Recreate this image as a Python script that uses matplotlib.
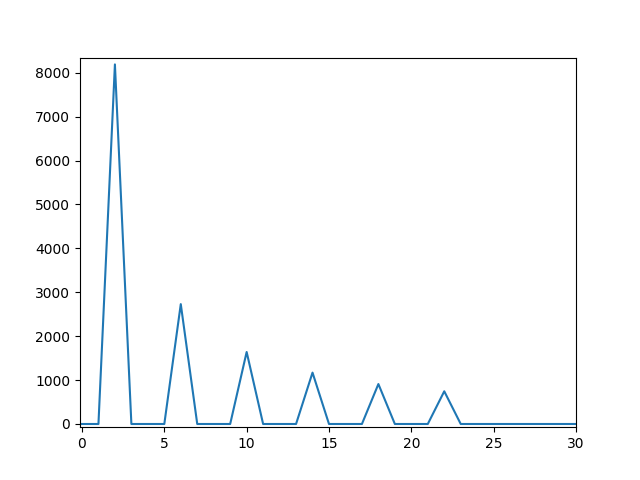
import matplotlib
matplotlib.use("Agg")
import matplotlib.pyplot as plt

# --------------------------------
# DATA
# --------------------------------

freq = list(range(0, 31))
amplitude = [0, 0, 8190, 0, 0, 0, 2730, 0, 0, 0,
             1640, 0, 0, 0, 1170, 0, 0, 0, 910, 0,
             0, 0, 745, 0, 0, 0, 0, 0, 0, 0, 0]

# --------------------------------
# PLOT
# --------------------------------

plt.figure(figsize=(6.4, 4.8), dpi=100)

plt.plot(freq, amplitude)

plt.xlim(-0.12, 30)
plt.ylim(-73, 8345)

plt.savefig("out.png")
